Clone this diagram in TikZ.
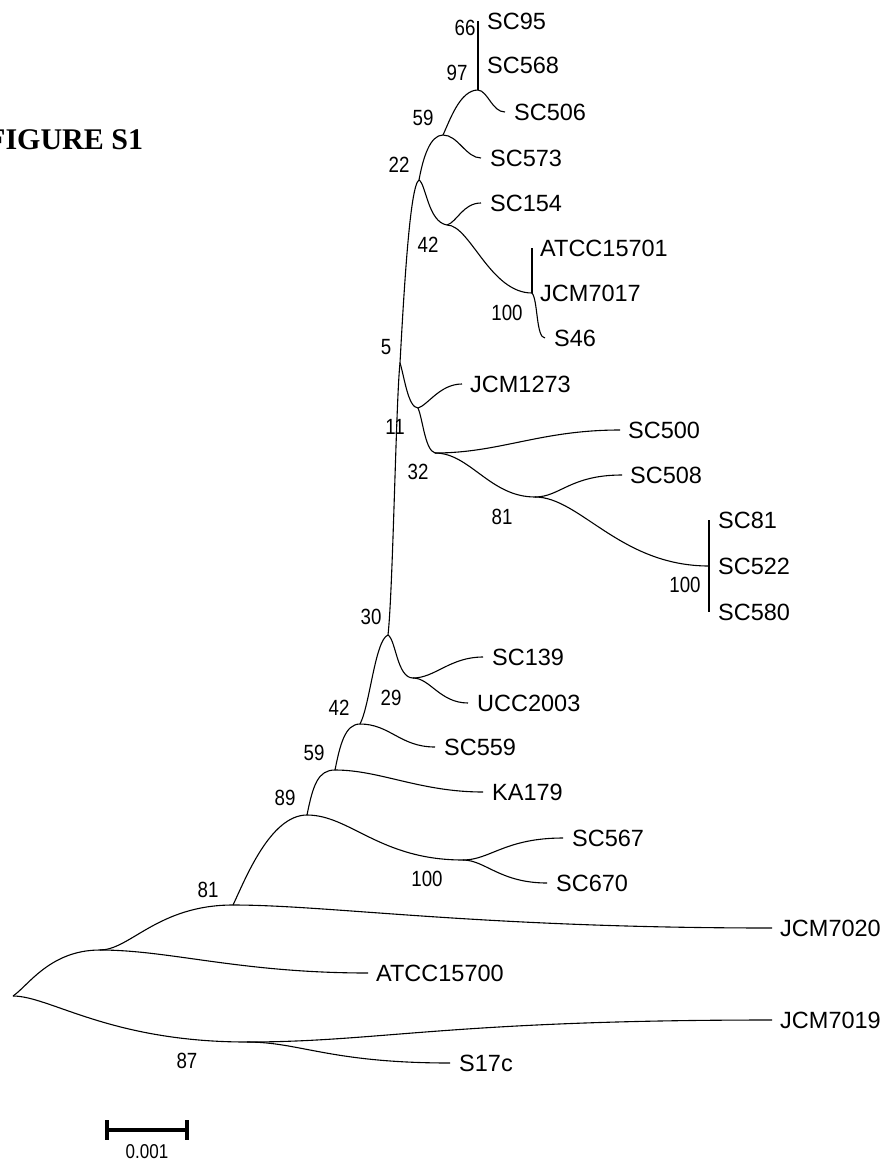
\documentclass[tikz,border=0pt]{standalone}
\usepackage{fontspec}
\setmainfont{Liberation Sans}
\newfontfamily\bootfont[FakeStretch=0.85]{Liberation Sans}
\newfontfamily\titlefont{Liberation Serif}
\usetikzlibrary{positioning}

\begin{document}
\begin{tikzpicture}[
    x=1pt, y=-1pt,
    branch/.style={line width=1.1pt},
    leaf/.style={inner sep=0pt, font=\fontsize{23.5}{23.5}\selectfont},
    boot/.style={inner sep=0pt, font=\bootfont\fontsize{22}{22}\selectfont},
    scalebar/.style={line width=4.5pt}
]
    \useasboundingbox (0,0) rectangle (885,1161);
    \clip (0,0) rectangle (885,1161);

    % title
    \node[anchor=west, inner sep=0pt, font=\titlefont\bfseries\fontsize{30}{30}\selectfont] (title) at (-13,140) {FIGURE S1};

    % internal nodes
    \coordinate (root) at (13,996);
    \coordinate (nA) at (100,950);
    \coordinate (n81) at (233,905);
    \coordinate (n87) at (247,1042);
    \coordinate (n89) at (307,815);
    \coordinate (n59l) at (335,770);
    \coordinate (n42l) at (360,724);
    \coordinate (n30) at (388,635);
    \coordinate (n29) at (413,678);
    \coordinate (n100l) at (463,860);
    \coordinate (n5) at (400,363);
    \coordinate (n22) at (419,180);
    \coordinate (n59) at (443,135);
    \coordinate (n97) at (478,90);
    \coordinate (n42) at (447,225);
    \coordinate (n100) at (532,293);
    \coordinate (n11) at (418,408);
    \coordinate (n32) at (435,453);
    \coordinate (n81b) at (535,497);
    \coordinate (n100b) at (709,566);

    % leaf ends
    \coordinate (l95) at (478,21);
    \coordinate (l568) at (478,65);
    \coordinate (l506) at (505,112);
    \coordinate (l573) at (481,158);
    \coordinate (l154) at (481,203);
    \coordinate (l15701) at (532,248);
    \coordinate (l46) at (545,338);
    \coordinate (l1273) at (462,384);
    \coordinate (l500) at (620,430);
    \coordinate (l508) at (622,475);
    \coordinate (l81) at (709,520);
    \coordinate (l580) at (709,612);
    \coordinate (l139) at (483,657);
    \coordinate (l2003) at (468,703);
    \coordinate (l559) at (435,747);
    \coordinate (l179) at (483,792);
    \coordinate (l567) at (563,838);
    \coordinate (l670) at (547,883);
    \coordinate (l7020) at (772,928);
    \coordinate (l15700) at (368,973);
    \coordinate (l7019) at (772,1020);
    \coordinate (l17c) at (450,1063);

    % leaf labels
    \node[leaf, right=9pt of l95] (tSC95) {SC95};
    \node[leaf, right=9pt of l568] (tSC568) {SC568};
    \node[leaf, right=9pt of l506] (tSC506) {SC506};
    \node[leaf, right=9pt of l573] (tSC573) {SC573};
    \node[leaf, right=9pt of l154] (tSC154) {SC154};
    \node[leaf, right=8pt of l15701] (tATCC15701) {ATCC15701};
    \node[leaf, right=8pt of n100] (tJCM7017) {JCM7017};
    \node[leaf, right=9pt of l46] (tS46) {S46};
    \node[leaf, right=8pt of l1273] (tJCM1273) {JCM1273};
    \node[leaf, right=8pt of l500] (tSC500) {SC500};
    \node[leaf, right=8pt of l508] (tSC508) {SC508};
    \node[leaf, right=9pt of l81] (tSC81) {SC81};
    \node[leaf, right=9pt of n100b] (tSC522) {SC522};
    \node[leaf, right=9pt of l580] (tSC580) {SC580};
    \node[leaf, right=9pt of l139] (tSC139) {SC139};
    \node[leaf, right=9pt of l2003] (tUCC2003) {UCC2003};
    \node[leaf, right=9pt of l559] (tSC559) {SC559};
    \node[leaf, right=9pt of l179] (tKA179) {KA179};
    \node[leaf, right=9pt of l567] (tSC567) {SC567};
    \node[leaf, right=9pt of l670] (tSC670) {SC670};
    \node[leaf, right=8pt of l7020] (tJCM7020) {JCM7020};
    \node[leaf, right=8pt of l15700] (tATCC15700) {ATCC15700};
    \node[leaf, right=8pt of l7019] (tJCM7019) {JCM7019};
    \node[leaf, right=9pt of l17c] (tS17c) {S17c};

    % branches
    \draw[branch] (root) .. controls +(15,-10) and +(-50,0) .. (nA);
    \draw[branch] (root) .. controls +(37,0) and +(-137,0) .. (n87);
    \draw[branch] (nA) .. controls +(30,0) and +(-75,0) .. (n81);
    \draw[branch] (nA) .. controls +(70,0) and +(-128,0) .. (l15700);
    \draw[branch] (n81) .. controls +(97,0) and +(-292,0) .. (l7020);
    \draw[branch] (n81) .. controls +(12,-25) and +(-37,0) .. (n89);
    \draw[branch] (n87) .. controls +(133,0) and +(-322,0) .. (l7019);
    \draw[branch] (n87) .. controls +(53,0) and +(-120,0) .. (l17c);
    \draw[branch] (n89) .. controls +(6,-30) and +(-17,0) .. (n59l);
    \draw[branch] (n89) .. controls +(43,0) and +(-83,0) .. (n100l);
    \draw[branch] (n100l) .. controls +(27,0) and +(-58,0) .. (l567);
    \draw[branch] (n100l) .. controls +(22,0) and +(-47,0) .. (l670);
    \draw[branch] (n59l) .. controls +(45,0) and +(-63,0) .. (l179);
    \draw[branch] (n59l) .. controls +(5,-25) and +(-15,0) .. (n42l);
    \draw[branch] (n42l) .. controls +(30,0) and +(-35,0) .. (l559);
    \draw[branch] (n42l) .. controls +(10,-19) and +(-13,5) .. (n30);
    \draw[branch] (n30) .. controls +(8,5) and +(-16,0) .. (n29);
    \draw[branch] (n29) .. controls +(22,0) and +(-33,0) .. (l139);
    \draw[branch] (n29) .. controls +(17,0) and +(-28,0) .. (l2003);
    \draw[branch] (n30) .. controls +(5,-45) and +(-4,37) .. (n5);
    \draw[branch] (n5) .. controls +(4,12) and +(-10,0) .. (n11);
    \draw[branch] (n11) .. controls +(10,-3) and +(-22,0) .. (l1273);
    \draw[branch] (n11) .. controls +(5,12) and +(-10,-3) .. (n32);
    \draw[branch] (n32) .. controls +(65,0) and +(-80,0) .. (l500);
    \draw[branch] (n32) .. controls +(35,0) and +(-45,0) .. (n81b);
    \draw[branch] (n81b) .. controls +(25,0) and +(-52,0) .. (l508);
    \draw[branch] (n81b) .. controls +(45,0) and +(-89,0) .. (n100b);
    \draw[branch] (l81) -- (l580);
    \draw[branch] (n5) .. controls +(4,-73) and +(-9,5) .. (n22);
    \draw[branch] (n22) .. controls +(4,-22) and +(-13,0) .. (n59);
    \draw[branch] (n22) .. controls +(7,4) and +(-19,-3) .. (n42);
    \draw[branch] (n42) .. controls +(10,-3) and +(-18,0) .. (l154);
    \draw[branch] (n42) .. controls +(23,0) and +(-42,0) .. (n100);
    \draw[branch] (l15701) -- (n100);
    \draw[branch] (n100) .. controls +(6,7) and +(-9,0) .. (l46);
    \draw[branch] (n59) .. controls +(15,0) and +(-15,0) .. (l573);
    \draw[branch] (n59) .. controls +(7,-15) and +(-18,0) .. (n97);
    \draw[branch] (n97) .. controls +(10,1) and +(-13,0) .. (l506);
    \draw[branch] (n97) -- (l95);

    % bootstrap values
    \node[boot] (b66) at (465,28) {66};
    \node[boot] (b97) at (457,73) {97};
    \node[boot] (b59) at (423,118) {59};
    \node[boot] (b22) at (399,165) {22};
    \node[boot] (b42) at (428,245) {42};
    \node[boot] (b100) at (507,313) {100};
    \node[boot] (b5) at (386,347) {5};
    \node[boot] (b11) at (395,427) {11};
    \node[boot] (b32) at (418,472) {32};
    \node[boot] (b81) at (502,517) {81};
    \node[boot] (b100b) at (685,585) {100};
    \node[boot] (b30) at (371,617) {30};
    \node[boot] (b29) at (391,698) {29};
    \node[boot] (b42l) at (339,708) {42};
    \node[boot] (b59l) at (314,753) {59};
    \node[boot] (b89) at (285,798) {89};
    \node[boot] (b100l) at (427,879) {100};
    \node[boot] (b81l) at (208,890) {81};
    \node[boot] (b87) at (187,1061) {87};

    % scale bar
    \coordinate (sbL) at (107,1130);
    \coordinate (sbR) at (187,1130);
    \draw[scalebar] (sbL) -- (sbR);
    \draw[scalebar] (sbL) ++(0,-10) -- ++(0,20);
    \draw[scalebar] (sbR) ++(0,-10) -- ++(0,20);
    \node[boot, font=\bootfont\fontsize{20}{20}\selectfont] (sblabel) at (147,1152) {0.001};
\end{tikzpicture}
\end{document}
